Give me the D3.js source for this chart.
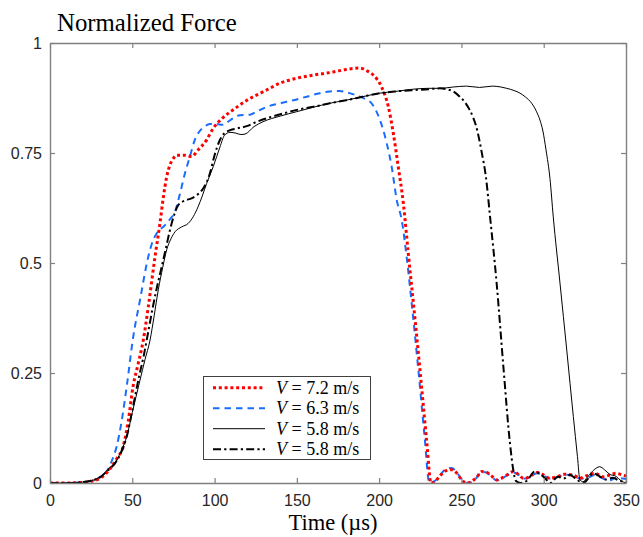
<!DOCTYPE html>
<html>
<head>
<meta charset="utf-8">
<script src="https://cdn.jsdelivr.net/npm/d3@7"></script>
<style>
  body { margin: 0; background: #fff; }
  svg { display: block; }
</style>
</head>
<body>
<div id="chart"></div>
<script>
// force curves, [time (us), normalized force]
var v72 = [[0,0],[10,0],[20,0.001],[25,0.004],[30,0.01],[33,0.018],[37,0.035],[41,0.058],[44.4,0.082],[47.5,0.14],[50.5,0.22],[53.5,0.27],[56.7,0.325],[59.7,0.4],[63.8,0.514],[66.8,0.59],[68.9,0.65],[70.9,0.696],[72.9,0.723],[75,0.738],[77,0.745],[82,0.745],[86,0.742],[90,0.757],[95.2,0.78],[99,0.805],[105,0.83],[112,0.85],[119.7,0.87],[130,0.89],[140,0.909],[150,0.92],[160,0.927],[172,0.934],[180,0.94],[188.4,0.943],[192.5,0.937],[196.5,0.927],[201.5,0.9],[205.6,0.855],[208.6,0.795],[211.6,0.719],[214.7,0.636],[217.7,0.522],[222,0.365],[226,0.21],[229,0.09],[231.5,0],[234,0.004],[237,0.016],[240,0.027],[244,0.03],[247,0.023],[250,0.008],[253,0],[256,0.003],[259,0.012],[262.5,0.026],[265,0.025],[268,0.017],[271.4,0.007],[274,0.01],[277.5,0.018],[281.5,0.026],[284.5,0.02],[287.6,0.011],[290,0.012],[292.7,0.018],[296,0.024],[299,0.02],[303.8,0.011],[308,0.014],[312.9,0.02],[318,0.018],[322,0.011],[327,0.018],[331,0.022],[336,0.014],[340,0.018],[344,0.022],[348,0.018],[350,0.016]];
var v63 = [[0,0],[10,0],[20,0.002],[25,0.005],[30,0.012],[34.4,0.026],[37.5,0.05],[40.5,0.083],[43.5,0.14],[46.6,0.219],[50.6,0.333],[54.7,0.416],[59.7,0.514],[62,0.545],[64.8,0.567],[69.9,0.586],[73,0.6],[76,0.617],[79,0.658],[82,0.704],[85,0.742],[88,0.78],[91,0.8],[94,0.81],[97,0.816],[101,0.816],[105,0.814],[110,0.826],[115.5,0.836],[121.5,0.837],[126,0.845],[131.8,0.855],[140,0.863],[148,0.87],[156,0.878],[164,0.886],[170,0.89],[176,0.891],[182,0.886],[188.4,0.878],[192,0.872],[195.4,0.863],[198,0.847],[200.5,0.825],[204.6,0.772],[207.6,0.719],[210.7,0.643],[213.7,0.598],[216.7,0.514],[220,0.4],[224,0.25],[227.5,0.11],[230.5,0],[234,0.005],[237,0.018],[240,0.03],[244,0.034],[247,0.025],[250,0.009],[253,0],[256,0.002],[259,0.011],[262.5,0.025],[265,0.024],[268,0.016],[271.4,0.006],[274,0.009],[277.5,0.017],[281.5,0.024],[284.5,0.019],[287.6,0.01],[290,0.011],[292.7,0.017],[296,0.022],[299,0.019],[303.8,0.01],[308,0.013],[312.9,0.019],[318,0.017],[322,0.01],[327,0.012],[331,0.018],[336,0.01],[340,0.006],[344,0.012],[348,0.01],[350,0.009]];
var v58a = [[0,0],[10,0],[20,0.002],[25,0.005],[30.4,0.014],[35,0.03],[40.5,0.052],[43.5,0.075],[46.6,0.105],[50,0.16],[54.7,0.234],[57.7,0.28],[60.8,0.325],[63.3,0.38],[65.8,0.439],[68.5,0.49],[70.9,0.53],[73.5,0.555],[76,0.571],[80,0.582],[84,0.59],[87,0.605],[90,0.628],[92.5,0.652],[95.2,0.681],[99.2,0.719],[103.3,0.764],[106,0.79],[109.4,0.797],[113,0.795],[116,0.792],[118.5,0.793],[124,0.81],[129.4,0.821],[140,0.834],[150,0.844],[160,0.854],[170,0.863],[180,0.87],[190,0.878],[200.5,0.886],[210,0.89],[220.7,0.895],[230,0.897],[237,0.897],[245,0.9],[253,0.902],[261,0.899],[269,0.902],[274,0.9],[277.5,0.897],[282,0.892],[285.6,0.886],[289,0.877],[292.7,0.863],[295.5,0.845],[297.7,0.825],[299.5,0.8],[301.4,0.757],[303.8,0.692],[305.8,0.605],[309.9,0.454],[314,0.302],[318,0.151],[320.5,0.06],[322,0.007],[324,0.003],[326,0.011],[330,0.028],[334,0.037],[337,0.03],[340,0.02],[344,0.015],[347,0.005],[350,0]];
var v58b = [[0,0],[10,0],[20,0.002],[25,0.005],[30,0.012],[35,0.028],[40.5,0.05],[43.5,0.072],[46.6,0.105],[50,0.165],[54,0.24],[57,0.29],[60,0.35],[62.5,0.4],[65,0.445],[67.9,0.492],[70.5,0.535],[72.9,0.575],[75.5,0.61],[78,0.632],[82,0.642],[86,0.647],[89.5,0.655],[93.2,0.67],[97.2,0.704],[100,0.745],[103.3,0.78],[106,0.795],[109.4,0.802],[114,0.806],[119.5,0.811],[125,0.82],[131.7,0.829],[140,0.838],[150,0.848],[160,0.855],[170,0.863],[180,0.87],[190,0.878],[200.5,0.886],[210,0.89],[220.7,0.893],[230,0.895],[237,0.897],[241,0.895],[245,0.89],[249,0.878],[252,0.866],[255,0.848],[257,0.832],[259,0.81],[262.3,0.752],[265,0.692],[267.4,0.605],[271.4,0.454],[275.5,0.264],[279.5,0.09],[281.5,0.03],[283,0.005],[286,0],[290,0.006],[294.6,0.026],[298,0.02],[301,0.01],[303.8,0],[308.7,0.014],[312,0.01],[316,0.018],[320,0.008],[324,0],[327,0.01],[330,0.022],[334,0.015],[338,0.008],[342,0.012],[346,0.005],[350,0.003]];

var xTicks = [0, 50, 100, 150, 200, 250, 300, 350];
var yTicks = [0, 0.25, 0.5, 0.75, 1];
var speeds = ["7.2", "6.3", "5.8", "5.8"];

var width = 643, height = 537;
var box = { left: 50, right: 626, top: 43, bottom: 483 };

var svg = d3.select("#chart").append("svg")
  .attr("width", width)
  .attr("height", height);

var x = d3.scaleLinear().domain([0, 350]).range([box.left, box.right]);
var y = d3.scaleLinear().domain([0, 1]).range([box.bottom, box.top]);

svg.append("defs").append("clipPath").attr("id", "clip")
  .append("rect")
  .attr("x", box.left).attr("y", box.top)
  .attr("width", box.right - box.left).attr("height", box.bottom - box.top);

var line = d3.line()
  .x(function(d) { return x(d[0]); })
  .y(function(d) { return y(d[1]); })
  .curve(d3.curveMonotoneX);

// series styles (drawing order)
var series = [
  { data: v63, color: "#1a6cff", width: 2, dash: "6.5,5" },
  { data: v72, color: "#ff0000", width: 3, dash: "3,2.8" },
  { data: v58a, color: "#000", width: 1, dash: null },
  { data: v58b, color: "#000", width: 2, dash: "8,3.2,2.2,3.2" }
];

var plot = svg.append("g").attr("clip-path", "url(#clip)");
plot.selectAll("path")
  .data(series).enter().append("path")
  .attr("d", function(d) { return line(d.data); })
  .attr("fill", "none")
  .attr("stroke", function(d) { return d.color; })
  .attr("stroke-width", function(d) { return d.width; })
  .attr("stroke-dasharray", function(d) { return d.dash; })
  .attr("stroke-linejoin", "round");

// axes box, ticks inside like matlab
function styleAxis(g) {
  g.selectAll(".domain").attr("stroke", "#808080").attr("stroke-width", 1.4);
  g.selectAll(".tick line").attr("stroke", "#808080").attr("stroke-width", 1.2);
  g.selectAll(".tick text")
    .attr("fill", "#262626")
    .style("font-family", "'Liberation Sans', Arial, sans-serif")
    .style("font-size", "16px");
}

svg.append("g")
  .attr("transform", "translate(0," + box.bottom + ")")
  .call(d3.axisBottom(x).tickValues(xTicks).tickSizeInner(-5).tickSizeOuter(0).tickPadding(12))
  .call(styleAxis);

svg.append("g")
  .attr("transform", "translate(0," + box.top + ")")
  .call(d3.axisTop(x).tickValues(xTicks).tickSizeInner(-5).tickSizeOuter(0).tickFormat(""))
  .call(styleAxis);

svg.append("g")
  .attr("transform", "translate(" + box.left + ",0)")
  .call(d3.axisLeft(y).tickValues(yTicks).tickSizeInner(-5).tickSizeOuter(0).tickPadding(8).tickFormat(d3.format("")))
  .call(styleAxis);

svg.append("g")
  .attr("transform", "translate(" + box.right + ",0)")
  .call(d3.axisRight(y).tickValues(yTicks).tickSizeInner(-5).tickSizeOuter(0).tickFormat(""))
  .call(styleAxis);

// title and axis label
svg.append("text")
  .attr("x", 57).attr("y", 30.5)
  .style("font-family", "'Liberation Serif', 'Times New Roman', serif")
  .style("font-size", "24.8px")
  .attr("fill", "#000")
  .text("Normalized Force");

svg.append("text")
  .attr("x", 333).attr("y", 530)
  .attr("text-anchor", "middle")
  .style("font-family", "'Liberation Serif', 'Times New Roman', serif")
  .style("font-size", "22.5px")
  .attr("fill", "#000")
  .text("Time (\u00b5s)");

// legend
var legend = svg.append("g");
legend.append("rect")
  .attr("x", 203.5).attr("y", 376.5)
  .attr("width", 167).attr("height", 83)
  .attr("fill", "#fff")
  .attr("stroke", "#404040")
  .attr("stroke-width", 1);

var legendOrder = [1, 0, 2, 3];
var rows = legend.selectAll("g.row")
  .data(legendOrder).enter().append("g")
  .attr("class", "row")
  .attr("transform", function(d, i) { return "translate(0," + (387.7 + i * 20.5) + ")"; });

rows.append("line")
  .attr("x1", 213).attr("x2", 265)
  .attr("stroke", function(d) { return series[d].color; })
  .attr("stroke-width", function(d) { return series[d].width; })
  .attr("stroke-dasharray", function(d) { return series[d].dash; });

var lt = rows.append("text")
  .attr("x", 276).attr("y", 6)
  .style("font-family", "'Liberation Serif', 'Times New Roman', serif")
  .style("font-size", "18px")
  .attr("fill", "#000");
lt.append("tspan").style("font-style", "italic").text("V");
lt.append("tspan").text(function(d, i) { return " = " + speeds[i] + " m/s"; });
</script>
</body>
</html>
